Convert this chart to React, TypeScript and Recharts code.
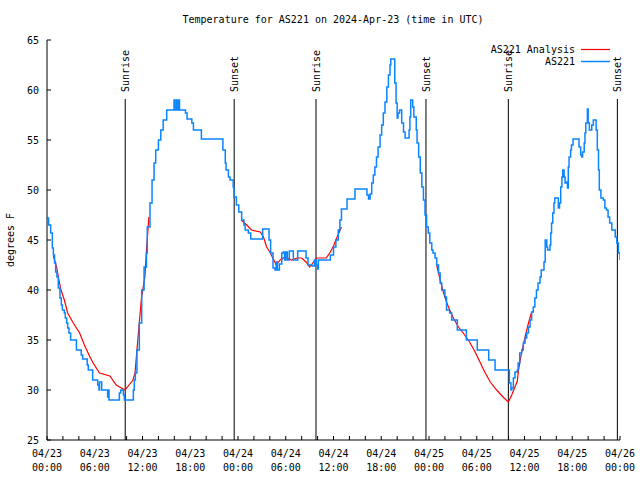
import { LineChart, Line, XAxis, YAxis, ReferenceLine } from "recharts";

// hours since 04/23 00:00 UTC, degrees F
const observed: [number, number][] = [
  [0.05, 47.2], [0.2, 46.5], [0.46, 45.7], [0.67, 44.2], [0.8, 43.5], [0.95, 42.7],
  [1.09, 41.8], [1.25, 41.3], [1.42, 40.2], [1.63, 39.2], [1.8, 38.5], [1.93, 38.0],
  [2.18, 37.7], [2.3, 37.2], [2.47, 36.7], [2.6, 36.2], [2.76, 35.7], [2.97, 35.0],
  [3.64, 35.0], [3.7, 34.0], [4.23, 34.0], [4.3, 33.5], [4.48, 33.1], [4.98, 33.1],
  [5.05, 32.5], [5.19, 32.0], [5.6, 32.0], [5.74, 31.0], [6.24, 31.0], [6.37, 30.5],
  [6.53, 30.0], [6.6, 30.8], [6.75, 30.8], [6.87, 30.0], [7.58, 30.0], [7.62, 29.3],
  [7.68, 30.0], [7.79, 29.0], [8.96, 29.0], [9.09, 29.7], [9.26, 30.0], [9.42, 30.0],
  [9.6, 29.5], [9.72, 29.0], [10.77, 29.0], [10.85, 30.0], [10.97, 31.0], [11.1, 31.7],
  [11.3, 34.0], [11.6, 36.7], [11.9, 40.0], [12.2, 42.3], [12.5, 43.7], [12.6, 46.3],
  [12.94, 48.7], [13.2, 51.0], [13.45, 52.7], [13.66, 54.0], [14.0, 55.0], [14.3, 56.0],
  [14.6, 57.0], [15.04, 58.0], [15.9, 58.0], [15.96, 59.0], [16.05, 58.0], [16.25, 59.0],
  [16.35, 58.0], [16.55, 59.0], [16.65, 58.0], [17.34, 58.0], [17.4, 57.7], [17.6, 57.1],
  [18.2, 56.7], [18.4, 56.0], [19.2, 56.0], [19.4, 55.1], [21.95, 55.1], [22.1, 54.0],
  [22.4, 52.7], [22.5, 52.0], [22.8, 51.3], [23.0, 51.0], [23.4, 50.3], [23.5, 49.3],
  [23.8, 48.5], [24.1, 47.8], [24.46, 47.0], [24.75, 46.5], [24.9, 46.0], [25.3, 45.7],
  [25.6, 45.1], [27.0, 45.1], [27.1, 46.1], [27.8, 46.1], [27.9, 45.0], [28.1, 43.7],
  [28.4, 42.2], [28.65, 42.0], [28.8, 42.8], [28.95, 42.0], [29.2, 42.6], [29.5, 43.7],
  [29.7, 43.8], [29.85, 43.0], [30.0, 43.8], [30.2, 43.0], [30.45, 43.9], [30.75, 43.9],
  [30.95, 43.0], [31.4, 43.0], [31.5, 43.9], [32.4, 43.9], [32.55, 43.2], [32.8, 42.5],
  [33.3, 42.4], [33.6, 43.0], [33.7, 43.0], [33.85, 42.5], [34.0, 42.1], [34.1, 43.0],
  [35.1, 43.0], [35.6, 43.5], [36.0, 44.3], [36.3, 45.0], [36.6, 46.0], [36.8, 47.0],
  [37.0, 48.1], [37.45, 48.1], [37.7, 49.1], [38.5, 49.1], [38.7, 50.1], [40.0, 50.1],
  [40.2, 49.5], [40.4, 49.1], [40.6, 49.6], [40.8, 50.7], [41.0, 51.5], [41.2, 52.3],
  [41.4, 53.3], [41.6, 54.3], [41.85, 55.5], [42.05, 56.5], [42.26, 57.7], [42.47, 58.8],
  [42.7, 60.3], [42.9, 61.5], [43.1, 62.5], [43.2, 63.1], [43.5, 63.1], [43.7, 60.7],
  [43.86, 58.7], [44.0, 57.2], [44.1, 57.7], [44.3, 58.0], [44.5, 58.0], [44.57, 56.7],
  [44.8, 55.8], [45.0, 55.2], [45.3, 55.2], [45.5, 56.0], [45.6, 57.3], [45.7, 59.0],
  [45.95, 58.3], [46.1, 57.3], [46.4, 56.0], [46.5, 54.7], [46.7, 53.3], [46.9, 51.7],
  [47.1, 50.3], [47.3, 49.0], [47.5, 47.5], [47.7, 46.3], [47.9, 45.7], [48.1, 44.7],
  [48.35, 44.0], [48.5, 43.7], [48.76, 43.2], [48.97, 42.5], [49.2, 41.7], [49.4, 40.7],
  [49.6, 40.0], [49.9, 40.0], [50.0, 39.3], [50.2, 38.0], [50.6, 37.7], [50.85, 37.0],
  [51.4, 37.0], [51.56, 36.0], [52.5, 36.0], [52.7, 35.0], [54.0, 35.0], [54.07, 34.0],
  [55.4, 34.0], [55.5, 33.0], [56.2, 33.0], [56.3, 32.0], [57.97, 32.0], [58.1, 30.7],
  [58.3, 30.0], [58.4, 30.2], [58.6, 31.2], [58.8, 31.8], [59.1, 32.0], [59.2, 32.7],
  [59.4, 33.7], [59.65, 34.0], [59.85, 34.7], [60.07, 35.2], [60.28, 35.7], [60.5, 36.3],
  [60.7, 37.0], [60.9, 37.8], [61.1, 38.3], [61.3, 39.2], [61.5, 40.0], [61.7, 40.7],
  [61.95, 41.3], [62.1, 42.0], [62.3, 42.0], [62.45, 42.8], [62.6, 45.0], [62.8, 44.3],
  [62.9, 44.0], [63.1, 44.0], [63.2, 44.5], [63.3, 45.7], [63.4, 46.7], [63.55, 47.7],
  [63.7, 48.7], [63.8, 49.2], [64.1, 49.2], [64.25, 48.2], [64.4, 48.7], [64.55, 50.3],
  [64.7, 51.3], [64.8, 52.0], [64.97, 51.3], [65.1, 50.7], [65.3, 50.8], [65.4, 50.2],
  [65.5, 52.3], [65.6, 53.3], [65.8, 54.0], [65.9, 54.5], [66.1, 55.1], [66.6, 55.1],
  [66.85, 54.3], [67.06, 53.5], [67.2, 53.3], [67.3, 53.8], [67.5, 54.7], [67.6, 55.7],
  [67.7, 56.7], [67.9, 58.1], [68.0, 56.7], [68.15, 56.0], [68.3, 56.0], [68.45, 56.5],
  [68.65, 57.0], [68.86, 57.0], [69.0, 56.0], [69.15, 54.0], [69.3, 52.0], [69.4, 50.0],
  [69.6, 49.2], [69.9, 49.0], [70.1, 48.2], [70.3, 48.0], [70.5, 47.3], [70.7, 46.7],
  [70.97, 46.0], [71.2, 46.0], [71.4, 45.3], [71.6, 44.7], [71.8, 43.7], [72.0, 43.0],
];

const analysisNight1: [number, number][] = [
  [0.8, 43.4], [1.2, 42.3], [1.5, 41.0], [1.76, 40.0], [2.18, 39.0], [2.6, 37.7],
  [3.3, 36.7], [4.1, 35.7], [4.7, 34.5], [5.4, 33.3], [5.8, 32.7], [6.6, 31.7],
  [7.9, 31.4], [8.7, 30.5], [9.8, 30.0], [10.8, 31.0], [11.06, 31.7], [11.3, 34.0],
  [11.66, 37.3], [11.87, 39.2], [12.3, 41.3], [12.5, 44.0], [12.8, 47.3],
];
const analysisNight2: [number, number][] = [
  [24.4, 47.0], [25.1, 46.5], [25.7, 46.0], [26.8, 45.8], [27.2, 45.3], [27.6, 44.3],
  [28.0, 43.8], [28.5, 43.0], [28.8, 42.5], [29.3, 43.0], [29.9, 43.3], [30.75, 43.0],
  [31.4, 43.2], [32.0, 43.2], [32.55, 42.8], [33.0, 42.3], [33.5, 42.8], [33.9, 43.2],
  [35.1, 43.2], [35.6, 43.8], [36.0, 44.4], [36.4, 45.2], [37.0, 46.3],
];
const analysisNight3: [number, number][] = [
  [48.97, 42.5], [49.2, 41.7], [49.5, 40.7], [49.8, 39.8], [50.2, 38.8], [50.6, 38.0],
  [51.0, 37.3], [51.7, 36.3], [52.3, 35.7], [53.1, 34.8], [53.8, 33.8], [54.4, 32.8],
  [55.0, 31.8], [55.7, 30.8], [56.5, 30.0], [57.3, 29.3], [57.97, 28.8], [58.4, 29.5],
  [58.8, 30.3], [59.1, 30.9], [59.2, 31.7], [59.4, 32.7], [59.65, 33.8], [60.07, 35.3],
  [60.5, 36.7], [60.9, 37.8],
];

const sunriseHours = [9.83, 33.8, 57.97];
const sunsetHours = [23.52, 47.62, 71.67];

const xTickHours = [0, 2, 4, 6, 8, 10, 12, 14, 16, 18, 20, 22, 24, 26, 28, 30, 32, 34, 36,
  38, 40, 42, 44, 46, 48, 50, 52, 54, 56, 58, 60, 62, 64, 66, 68, 70, 72];
const xLabelDays = ["04/23", "04/24", "04/25", "04/26"];
const xLabelTimes = ["00:00", "06:00", "12:00", "18:00"];
const yTicks = [25, 30, 35, 40, 45, 50, 55, 60, 65];

const RED = "#ff0000";
const BLUE = "#0a84ff";
const FONT = "'DejaVu Sans Mono', monospace";

const toRows = (pts: [number, number][]) => pts.map(([h, v]) => ({ h, v }));

const TimeTick = (props: any) => {
  const { x, y, payload } = props;
  const h = payload.value;
  if (h % 6 !== 0) return null;
  const day = xLabelDays[Math.floor(h / 24)];
  const time = xLabelTimes[(h % 24) / 6];
  return (
    <g>
      <text x={x} y={y + 17} textAnchor="middle" fontFamily={FONT} fontSize={10} fill="#000">{day}</text>
      <text x={x} y={y + 31} textAnchor="middle" fontFamily={FONT} fontSize={10} fill="#000">{time}</text>
    </g>
  );
};

const ValueTick = (props: any) => {
  const { x, y, payload } = props;
  return (
    <text x={x} y={y + 3.5} textAnchor="end" fontFamily={FONT} fontSize={10} fill="#000">{payload.value}</text>
  );
};

const SunLabel = (props: any) => {
  const { viewBox, text } = props;
  const x = viewBox.x + 4;
  const y = viewBox.y - 7;
  return (
    <text x={x} y={y} transform={`rotate(-90 ${x} ${y})`} textAnchor="start" fontFamily={FONT} fontSize={10} fill="#000">{text}</text>
  );
};

const YLabel = (props: any) => {
  const { viewBox } = props;
  const x = 14;
  const y = viewBox.y + viewBox.height / 2;
  return (
    <text x={x} y={y} transform={`rotate(-90 ${x} ${y})`} textAnchor="middle" fontFamily={FONT} fontSize={10} fill="#000">degrees F</text>
  );
};

export default function App() {
  return (
    <div style={{ position: "absolute", left: 0, top: 0, width: 640, height: 480, background: "#fff" }}>
      <LineChart width={640} height={480} margin={{ top: 40, right: 20, bottom: 0, left: 0 }}>
        <XAxis
          dataKey="h"
          type="number"
          domain={[0, 72]}
          ticks={xTickHours}
          interval={0}
          height={40}
          tickSize={-4}
          tickMargin={4}
          tick={<TimeTick />}
          stroke="#000"
          allowDataOverflow
        />
        <XAxis
          xAxisId="top"
          orientation="top"
          type="number"
          domain={[0, 72]}
          ticks={xTickHours}
          interval={0}
          height={0}
          tickSize={-4}
          tick={false}
          stroke="#000"
        />
        <YAxis
          type="number"
          domain={[25, 65]}
          ticks={yTicks}
          interval={0}
          width={47}
          tickSize={-4}
          tickMargin={12}
          tick={<ValueTick />}
          stroke="#000"
          label={<YLabel />}
          allowDataOverflow
        />
        <YAxis
          yAxisId="right"
          orientation="right"
          type="number"
          domain={[25, 65]}
          ticks={yTicks}
          interval={0}
          width={0}
          tickSize={-4}
          tick={false}
          stroke="#000"
        />
        {sunriseHours.map((h) => (
          <ReferenceLine
            key={`sr${h}`}
            segment={[{ x: h, y: 25 }, { x: h, y: 59.1 }]}
            stroke="#000"
            strokeWidth={1}
            label={<SunLabel text="Sunrise" />}
          />
        ))}
        {sunsetHours.map((h) => (
          <ReferenceLine
            key={`ss${h}`}
            segment={[{ x: h, y: 25 }, { x: h, y: 59.1 }]}
            stroke="#000"
            strokeWidth={1}
            label={<SunLabel text="Sunset" />}
          />
        ))}
        {[analysisNight1, analysisNight2, analysisNight3].map((run, i) => (
          <Line
            key={`a${i}`}
            data={toRows(run)}
            dataKey="v"
            type="linear"
            stroke={RED}
            strokeWidth={1.2}
            dot={false}
            isAnimationActive={false}
          />
        ))}
        <Line
          data={toRows(observed)}
          dataKey="v"
          type="stepAfter"
          stroke={BLUE}
          strokeWidth={1.5}
          dot={false}
          isAnimationActive={false}
        />
      </LineChart>
      <svg width={640} height={480} style={{ position: "absolute", left: 0, top: 0, pointerEvents: "none" }}>
        <text x={333} y={23} textAnchor="middle" fontFamily={FONT} fontSize={10} fill="#000">
          Temperature for AS221 on 2024-Apr-23 (time in UTC)
        </text>
        <text x={575} y={53} textAnchor="end" fontFamily={FONT} fontSize={10} fill="#000">AS221 Analysis</text>
        <line x1={581} x2={610} y1={49.5} y2={49.5} stroke={RED} strokeWidth={1.2} />
        <text x={575} y={65} textAnchor="end" fontFamily={FONT} fontSize={10} fill="#000">AS221</text>
        <line x1={581} x2={610} y1={61.5} y2={61.5} stroke={BLUE} strokeWidth={1.5} />
      </svg>
    </div>
  );
}
